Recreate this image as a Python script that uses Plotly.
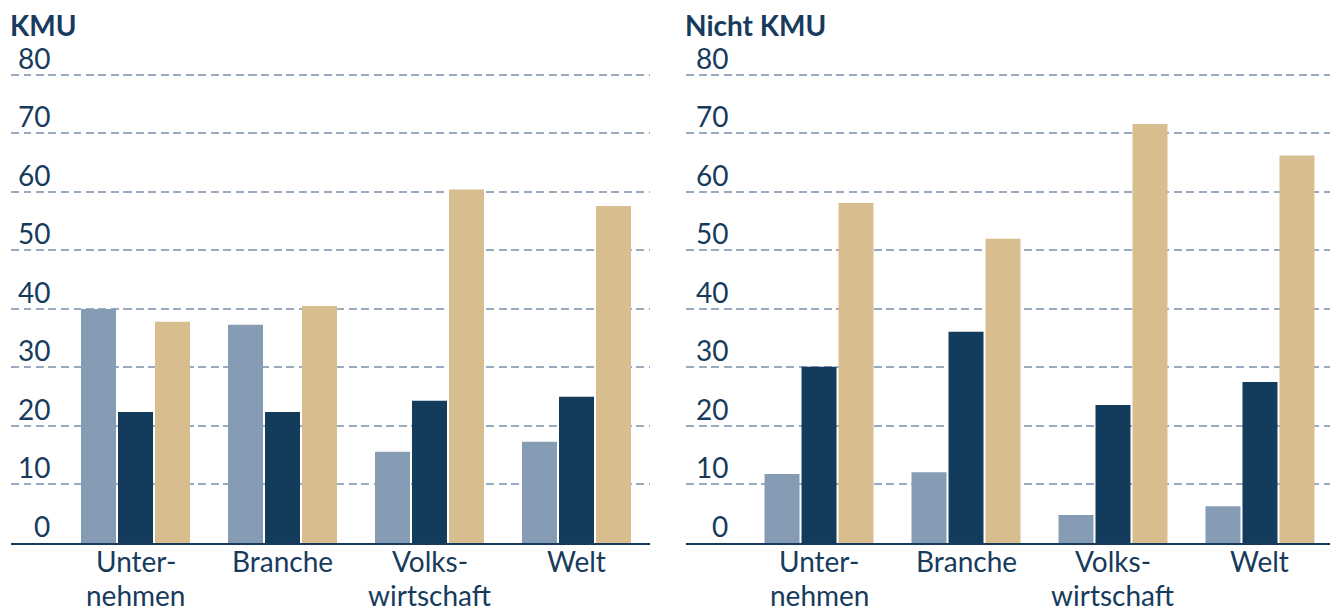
import plotly.graph_objects as go

categories = ["Unter-<br>nehmen", "Branche", "Volks-<br>wirtschaft", "Welt"]
series_names = ["Serie 1", "Serie 2", "Serie 3"]
colors = ["#869cb4", "#133b5c", "#d8bd8f"]

kmu_s1 = [40.0, 37.3, 15.6, 17.3]
kmu_s2 = [22.4, 22.4, 24.3, 25.0]
kmu_s3 = [37.8, 40.5, 60.4, 57.6]

nkmu_s1 = [11.8, 12.1, 4.8, 6.3]
nkmu_s2 = [30.1, 36.1, 23.6, 27.5]
nkmu_s3 = [58.1, 52.0, 71.6, 66.2]

y_ticks = [0, 10, 20, 30, 40, 50, 60, 70, 80]
panel_titles = ["KMU", "Nicht KMU"]

TEXT = "#173b5c"
FONT = "Lato"
# page body has an 8px margin, so the figure is drawn 8px in from the top-left
W, H = 1330, 604

fig = go.Figure()
x_idx = list(range(len(categories)))
for vals, name, col in zip([kmu_s1, kmu_s2, kmu_s3], series_names, colors):
    fig.add_trace(go.Bar(x=x_idx, y=vals, name=name, marker=dict(color=col, line=dict(width=0)),
                         xaxis="x", yaxis="y", showlegend=False))
for vals, name, col in zip([nkmu_s1, nkmu_s2, nkmu_s3], series_names, colors):
    fig.add_trace(go.Bar(x=x_idx, y=vals, name=name, marker=dict(color=col, line=dict(width=0)),
                         xaxis="x2", yaxis="y2", showlegend=False))

common_x = dict(
    tickmode="array", tickvals=x_idx, showticklabels=False,
    showline=True, linecolor=TEXT, linewidth=1.5, ticks="", showgrid=False,
    zeroline=False, fixedrange=True,
)
common_y = dict(
    range=[0, 81], tickvals=y_ticks[1:], showticklabels=False, showgrid=True,
    gridcolor="#9aabbf", gridwidth=1.5, griddash="8px,4.5px", zeroline=False,
    showline=False, ticks="",
)

fig.update_layout(
    width=W, height=H,
    margin=dict(l=0, r=0, t=61, b=69),
    paper_bgcolor="white", plot_bgcolor="white",
    barmode="group", bargap=0.245, bargroupgap=0.054,
    xaxis=dict(domain=[3 / W, 642 / W], range=[-0.847, 3.5], anchor="y", **common_x),
    xaxis2=dict(domain=[678 / W, 1324 / W], range=[-0.905, 3.49], anchor="y2", **common_x),
    yaxis=dict(anchor="x", **common_y),
    yaxis2=dict(anchor="x2", **common_y),
    font=dict(family=FONT, color=TEXT),
)

annotations = []
panels = [("x", "x domain", "y", 0.064), ("x2", "x2 domain", "y2", 0.068)]
for i, (xa, xd, yref, tick_x) in enumerate(panels):
    for v in y_ticks:
        annotations.append(dict(
            text=str(v), xref=xd, x=tick_x, xanchor="right",
            yref=yref, y=v, yanchor="middle", yshift=17, showarrow=False,
            font=dict(family=FONT, size=28, color=TEXT),
        ))
    for ci, cat in enumerate(categories):
        for li, line in enumerate(cat.split("<br>")):
            annotations.append(dict(
                text=line, xref=xa, x=ci, xanchor="center",
                yref=yref, y=0, yanchor="middle", yshift=-18 - 34 * li, showarrow=False,
                font=dict(family=FONT, size=28, color=TEXT),
            ))
    annotations.append(dict(
        text="<b>" + panel_titles[i] + "</b>", xref=xd, x=0, xanchor="left",
        xshift=-3,
        yref="paper", y=1, yanchor="middle", yshift=44, showarrow=False,
        font=dict(family=FONT, size=28, color=TEXT),
    ))
fig.update_layout(annotations=annotations)

fig.write_html("out.html")
